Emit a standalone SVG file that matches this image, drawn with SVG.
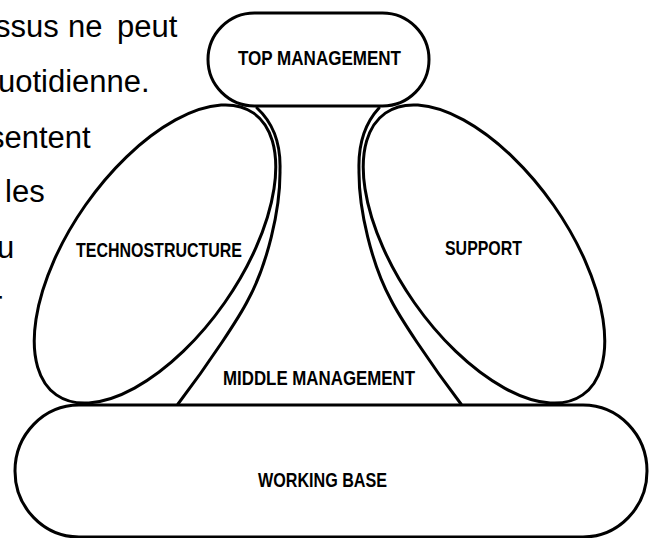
<svg xmlns="http://www.w3.org/2000/svg" width="652" height="538" viewBox="0 0 652 538">
  <style>
    .shape { fill: #ffffff; stroke: #000000; stroke-width: 3; }
    .line { fill: none; stroke: #000000; stroke-width: 3; stroke-linecap: round; }
    .label { font-family: "Liberation Sans", Arial, sans-serif; font-weight: bold; font-size: 20px; fill: #000000; }
    .body { font-family: "Liberation Sans", Arial, sans-serif; font-size: 31px; fill: #000000; }
  </style>

  <rect x="0" y="0" width="652" height="538" fill="#ffffff"/>

  <!-- running paragraph, clipped at the left margin -->
  <g id="body-text" class="body">
    <text x="-5" y="37">ssus</text>
    <text x="68" y="37">ne</text>
    <text x="117" y="37">peut</text>
    <text x="-2" y="92">uotidienne.</text>
    <text x="-11" y="148">sentent</text>
    <text x="5" y="202">les</text>
    <text x="-3" y="258">u</text>
    <text x="-8" y="313">r</text>
  </g>

  <!-- operating core -->
  <g id="working-base">
    <rect class="shape" x="15" y="405" width="632" height="132" rx="64" ry="66"/>
    <text class="label" x="258" y="487" textLength="129" lengthAdjust="spacingAndGlyphs">WORKING BASE</text>
  </g>

  <!-- middle line between apex and base, hugging the two side ellipses -->
  <g id="middle-management">
    <path class="line" d="M257 108 C270 120 281 140 280 170 C280.5 210 267 265 248 300 C240 316 210 362 178 404"/>
    <path class="line" d="M379 108 C368 120 358 140 359 170 C358.5 210 372 265 391 300 C399 316 429 362 461 404"/>
    <text class="label" x="223" y="385" textLength="192" lengthAdjust="spacingAndGlyphs">MIDDLE MANAGEMENT</text>
  </g>

  <g id="technostructure">
    <ellipse class="shape" cx="155" cy="254" rx="172" ry="85" transform="rotate(-55 155 254)"/>
    <text class="label" x="76" y="257" textLength="166" lengthAdjust="spacingAndGlyphs">TECHNOSTRUCTURE</text>
  </g>

  <g id="support">
    <ellipse class="shape" cx="484" cy="254" rx="172" ry="85" transform="rotate(55 484 254)"/>
    <text class="label" x="445" y="255" textLength="77" lengthAdjust="spacingAndGlyphs">SUPPORT</text>
  </g>

  <!-- strategic apex -->
  <g id="top-management">
    <rect class="shape" x="208" y="13" width="221" height="93" rx="46.5" ry="46.5"/>
    <text class="label" x="238" y="65" textLength="163" lengthAdjust="spacingAndGlyphs">TOP MANAGEMENT</text>
  </g>
</svg>
